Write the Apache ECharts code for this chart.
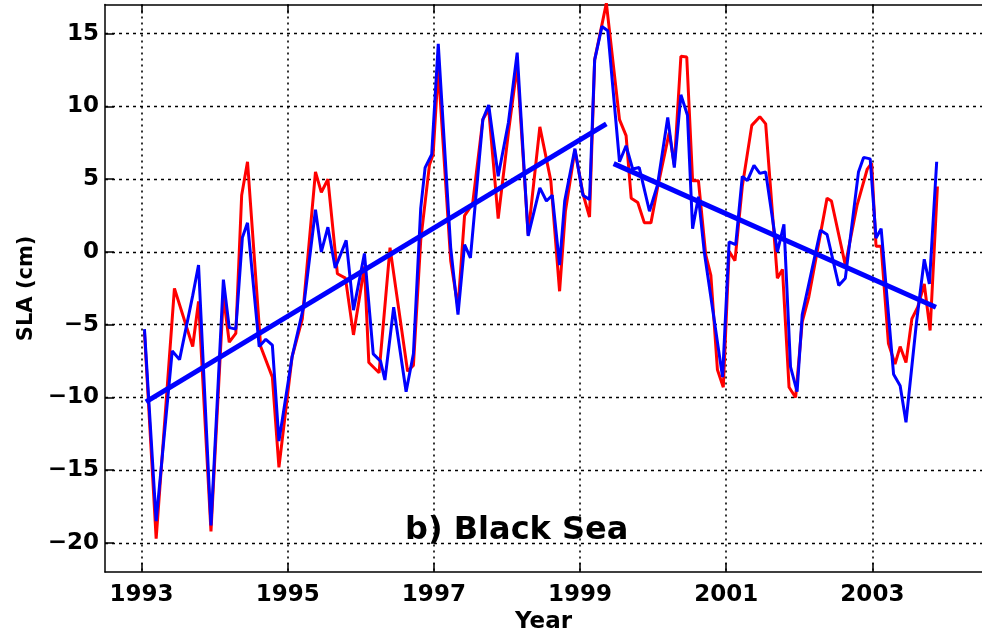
<!DOCTYPE html>
<html><head><meta charset="utf-8">
<script src="https://cdn.jsdelivr.net/npm/echarts@6/dist/echarts.min.js"></script>
<style>html,body{margin:0;padding:0;background:#fff}#c{width:982px;height:639px}</style>
</head><body><div id="c"></div>
<script>
const yearTicks = [1993, 1995, 1997, 1999, 2001, 2003];
const slaTicks = [-20, -15, -10, -5, 0, 5, 10, 15];

const redT = [1993.04,1993.2,1993.45,1993.7,1993.78,1993.95,1994.12,1994.2,1994.29,1994.37,1994.45,1994.63,1994.79,1994.88,1995.06,1995.2,1995.38,1995.46,1995.55,1995.68,1995.79,1995.9,1996.05,1996.11,1996.25,1996.4,1996.64,1996.72,1996.82,1996.94,1996.99,1997.06,1997.23,1997.33,1997.42,1997.53,1997.67,1997.75,1997.88,1998.02,1998.14,1998.29,1998.45,1998.6,1998.72,1998.8,1998.93,1999.04,1999.13,1999.2,1999.36,1999.54,1999.63,1999.7,1999.79,1999.88,1999.97,2000.06,2000.22,2000.29,2000.38,2000.46,2000.54,2000.62,2000.72,2000.79,2000.88,2000.96,2001.04,2001.12,2001.22,2001.35,2001.46,2001.54,2001.7,2001.77,2001.86,2001.95,2002.04,2002.13,2002.38,2002.44,2002.63,2002.79,2002.93,2002.99,2003.05,2003.12,2003.22,2003.31,2003.38,2003.46,2003.54,2003.62,2003.71,2003.79,2003.89];
const redV = [-5.5,-19.7,-2.5,-6.5,-3.4,-19.2,-3.0,-6.2,-5.6,3.9,6.2,-6.5,-8.6,-14.8,-7.2,-4.6,5.5,4.1,5.0,-1.5,-1.8,-5.7,-1.0,-7.6,-8.3,0.3,-8.2,-7.8,0.8,6.0,6.7,12.6,-0.6,-3.8,2.5,3.3,9.1,9.8,2.3,8.2,12.8,1.2,8.6,4.9,-2.7,2.8,7.0,4.0,2.4,13.2,17.1,9.1,8.0,3.7,3.4,2.0,2.0,4.4,8.2,6.0,13.45,13.4,4.9,4.9,-0.2,-1.6,-8.1,-9.3,0.05,-0.6,4.5,8.7,9.3,8.8,-1.8,-1.2,-9.3,-10.0,-4.8,-3.1,3.7,3.5,-0.9,3.2,5.7,6.1,0.4,0.4,-6.3,-7.7,-6.5,-7.6,-4.6,-3.8,-2.2,-5.4,4.5];

const blueT = [1993.04,1993.2,1993.42,1993.52,1993.7,1993.78,1993.95,1994.12,1994.2,1994.29,1994.38,1994.45,1994.61,1994.7,1994.79,1994.88,1995.06,1995.22,1995.38,1995.46,1995.55,1995.65,1995.8,1995.9,1996.05,1996.17,1996.27,1996.33,1996.45,1996.62,1996.72,1996.82,1996.88,1996.97,1997.06,1997.23,1997.33,1997.42,1997.5,1997.67,1997.75,1997.88,1998.02,1998.14,1998.29,1998.45,1998.54,1998.62,1998.72,1998.79,1998.93,1999.04,1999.13,1999.2,1999.3,1999.38,1999.54,1999.63,1999.72,1999.81,1999.95,2000.06,2000.2,2000.29,2000.38,2000.47,2000.54,2000.62,2000.7,2000.79,2000.95,2001.04,2001.13,2001.22,2001.29,2001.38,2001.46,2001.54,2001.7,2001.79,2001.88,2001.97,2002.04,2002.29,2002.38,2002.54,2002.63,2002.81,2002.88,2002.97,2003.05,2003.12,2003.2,2003.29,2003.38,2003.46,2003.6,2003.71,2003.78,2003.88];
const blueV = [-5.3,-18.5,-6.8,-7.4,-3.0,-0.9,-18.8,-1.9,-5.2,-5.3,1.0,2.0,-6.5,-6.0,-6.4,-13.0,-7.2,-3.7,2.9,0.0,1.7,-1.1,0.8,-4.0,-0.1,-7.0,-7.5,-8.8,-3.8,-9.6,-7.0,3.0,5.8,6.7,14.3,0.3,-4.3,0.5,-0.4,9.1,10.1,5.2,8.9,13.7,1.1,4.4,3.5,3.9,-0.9,3.5,7.1,3.9,3.6,13.2,15.5,15.2,6.2,7.3,5.7,5.8,2.8,4.6,9.25,5.8,10.8,9.4,1.6,3.8,0.0,-3.1,-8.6,0.7,0.5,5.2,4.9,5.95,5.4,5.5,0.0,1.9,-7.9,-9.6,-4.3,1.5,1.2,-2.3,-1.8,5.5,6.5,6.4,0.95,1.6,-3.1,-8.4,-9.2,-11.7,-5.0,-0.5,-2.2,6.2];

const trend1T = [1993.06, 1999.36];
const trend1V = [-10.3, 8.8];
const trend2T = [1999.46, 2003.87];
const trend2V = [6.07, -3.8];

const zip = (t, v) => t.map((x, i) => [x, v[i]]);
const FONT = 'DejaVu Sans';

const chart = echarts.init(document.getElementById('c'), null, {renderer: 'canvas'});
chart.setOption({
  animation: false,
  backgroundColor: '#fff',
  title: {
    text: 'b) Black Sea', left: 400, top: 510,
    textStyle: {fontFamily: FONT, fontWeight: 'bold', fontSize: 32, color: '#000'}
  },
  grid: {left: 105, top: 4.6, width: 881, height: 572, containLabel: false},
  xAxis: [{
    type: 'value', min: 1992.5, max: 2004.5, position: 'bottom',
    name: 'Year', nameLocation: 'middle', nameGap: 33,
    nameTextStyle: {fontFamily: FONT, fontWeight: 'bold', fontSize: 23, color: '#000'},
    axisLine: {show: true, onZero: false, lineStyle: {color: '#000', width: 1.5}},
    axisTick: {show: true, inside: true, length: 9, customValues: yearTicks, lineStyle: {color: '#000', width: 1.5}},
    axisLabel: {show: true, customValues: yearTicks, margin: 11, formatter: v => String(v),
      fontFamily: FONT, fontWeight: 'bold', fontSize: 23, color: '#000'},
    splitLine: {show: true, lineStyle: {color: '#000', width: 1.6, type: [2, 4]}}
  }, {
    type: 'value', min: 1992.5, max: 2004.5, position: 'top',
    axisLine: {show: true, onZero: false, lineStyle: {color: '#000', width: 1.5}},
    axisTick: {show: true, inside: true, length: 9, customValues: yearTicks, lineStyle: {color: '#000', width: 1.5}},
    axisLabel: {show: false}, splitLine: {show: false}
  }],
  yAxis: [{
    type: 'value', min: -22, max: 17,
    name: 'SLA (cm)', nameLocation: 'middle', nameGap: 62, nameRotate: 90,
    nameTextStyle: {fontFamily: FONT, fontWeight: 'bold', fontSize: 21, color: '#000'},
    axisLine: {show: true, onZero: false, lineStyle: {color: '#000', width: 1.5}},
    axisTick: {show: true, inside: true, length: 9, customValues: slaTicks, lineStyle: {color: '#000', width: 1.5}},
    axisLabel: {show: true, customValues: slaTicks, margin: 6, formatter: v => (v < 0 ? '\u2212' + Math.abs(v) : String(v)),
      fontFamily: FONT, fontWeight: 'bold', fontSize: 23, color: '#000'},
    splitLine: {show: true, lineStyle: {color: '#000', width: 1.3, type: [3, 4]}}
  }],
  series: [
    {name: 'red', type: 'line', data: zip(redT, redV), showSymbol: false, symbol: 'none', z: 2,
      lineStyle: {color: '#ff0000', width: 3}, itemStyle: {color: '#ff0000'}},
    {name: 'blue', type: 'line', data: zip(blueT, blueV), showSymbol: false, symbol: 'none', z: 3,
      lineStyle: {color: '#0000ff', width: 3}, itemStyle: {color: '#0000ff'}},
    {name: 'trend1', type: 'line', data: zip(trend1T, trend1V), showSymbol: false, symbol: 'none', z: 4,
      lineStyle: {color: '#0000ff', width: 5}},
    {name: 'trend2', type: 'line', data: zip(trend2T, trend2V), showSymbol: false, symbol: 'none', z: 4,
      lineStyle: {color: '#0000ff', width: 5}}
  ]
});
</script></body></html>
